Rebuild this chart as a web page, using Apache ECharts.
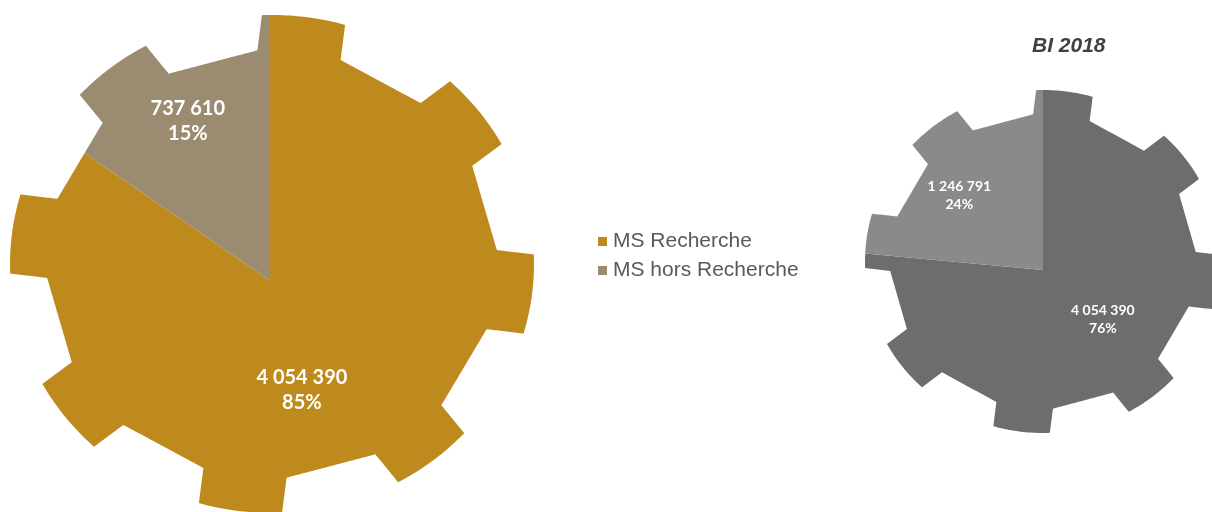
<!DOCTYPE html>
<html>
<head>
<meta charset="utf-8">
<script src="https://cdn.jsdelivr.net/npm/echarts@6/dist/echarts.min.js"></script>
<style>
  html, body { margin: 0; padding: 0; background: #ffffff; }
  #chart { width: 1212px; height: 512px; }
</style>
</head>
<body>
<div id="chart"></div>
<script>
// ---- data ----
const categories = ['MS Recherche', 'MS hors Recherche'];
const panelTitles = ['', 'BI 2018'];
const msRecherche = [4054390, 4054390];
const msHorsRecherche = [737610, 1246791];
const seriesValues = [msRecherche, msHorsRecherche];

// ---- gear-shaped pie layout (pixels) ----
const gears = [
  {
    cx: 272, cy: 264, rx: 262, ry: 249,   // outline centre and radii
    ax: 269, ay: 280,                     // point where the slices meet
    colors: ['#BE8A1E', '#9B8B71'],
    fontSize: 20, lineHeight: 25,
    labels: [{ da: 11, r: 0.437 }, { da: 0.6, r: 0.68 }]
  },
  {
    cx: 1043, cy: 261.5, rx: 178, ry: 171.5,
    ax: 1043, ay: 270,
    colors: ['#6D6D6D', '#8A8A8A'],
    fontSize: 14, lineHeight: 18,
    labels: [{ da: -8, r: 0.437 }, { da: -5.9, r: 0.63 }]
  }
];
const TEETH = 8, TOOTH_OFFSET = 7, TOOTH_HALF = 0.16, ROOT = 0.86;
const DEG = Math.PI / 180;

function buildOutline(g) {
  const pts = [];
  const toPx = (u) => [g.cx + u[0] * g.rx, g.cy + u[1] * g.ry];
  const line = (a, b, n) => {
    for (let i = 0; i < n; i++) {
      const t = i / n;
      pts.push(toPx([a[0] + (b[0] - a[0]) * t, a[1] + (b[1] - a[1]) * t]));
    }
  };
  const hb = Math.sqrt(ROOT * ROOT - TOOTH_HALF * TOOTH_HALF);
  const ho = Math.sqrt(1 - TOOTH_HALF * TOOTH_HALF);
  const tooth = (k) => {
    const phi = (TOOTH_OFFSET + k * 360 / TEETH) * DEG;
    const d = [Math.sin(phi), -Math.cos(phi)];
    const p = [Math.cos(phi), Math.sin(phi)];
    const comb = (s, q) => [d[0] * s + p[0] * q, d[1] * s + p[1] * q];
    return {
      phi,
      baseL: comb(hb, -TOOTH_HALF), outL: comb(ho, -TOOTH_HALF),
      outR: comb(ho, TOOTH_HALF), baseR: comb(hb, TOOTH_HALF)
    };
  };
  const dA = Math.asin(TOOTH_HALF);
  for (let k = 0; k < TEETH; k++) {
    const t = tooth(k), nx = tooth((k + 1) % TEETH);
    line(t.baseL, t.outL, 12);
    const n = 24;
    for (let i = 0; i < n; i++) {
      const a = t.phi - dA + 2 * dA * i / n;
      pts.push(toPx([Math.sin(a), -Math.cos(a)]));
    }
    line(t.outR, t.baseR, 12);
    line(t.baseR, nx.baseL, 40);
  }
  return pts;
}
gears.forEach(g => { g.outline = buildOutline(g); });

function angleFrom(g, pt) {
  let a = Math.atan2(pt[0] - g.ax, -(pt[1] - g.ay));
  if (a < 0) a += 2 * Math.PI;
  return a;
}
function rayHit(g, a) {
  const D = [Math.sin(a), -Math.cos(a)];
  const pts = g.outline;
  let best = null, bestT = -1;
  for (let i = 0; i < pts.length; i++) {
    const P = pts[i], Q = pts[(i + 1) % pts.length];
    const E = [Q[0] - P[0], Q[1] - P[1]];
    const den = D[0] * E[1] - D[1] * E[0];
    if (Math.abs(den) < 1e-9) continue;
    const w = [P[0] - g.ax, P[1] - g.ay];
    const t = (w[0] * E[1] - w[1] * E[0]) / den;
    const s = (w[0] * D[1] - w[1] * D[0]) / den;
    if (t > 0 && s >= -1e-6 && s <= 1 + 1e-6 && t > bestT) {
      bestT = t; best = [g.ax + D[0] * t, g.ay + D[1] * t];
    }
  }
  return best;
}
function slicePolygon(g, a0, a1) {
  const inner = g.outline
    .map(p => ({ p, a: angleFrom(g, p) }))
    .filter(o => o.a > a0 && o.a < a1)
    .sort((x, y) => x.a - y.a)
    .map(o => o.p);
  return [[g.ax, g.ay], rayHit(g, a0)].concat(inner, [rayHit(g, a1)]);
}
function fmtNumber(v) {
  return String(Math.round(v)).replace(/\B(?=(\d{3})+(?!\d))/g, ' ');
}

function renderSlice(params, api) {
  const gi = api.value(0);
  const v = api.value(1);
  const ci = params.seriesIndex;
  const g = gears[gi];
  let total = 0, before = 0;
  seriesValues.forEach((arr, i) => {
    total += arr[gi];
    if (i < ci) before += arr[gi];
  });
  const a0 = before / total * 2 * Math.PI;
  const a1 = (before + v) / total * 2 * Math.PI;
  const mid = (a0 + a1) / 2 + g.labels[ci].da * DEG;
  const lr = g.labels[ci].r * g.rx;
  return {
    type: 'group',
    children: [
      {
        type: 'polygon',
        shape: { points: slicePolygon(g, a0, a1) },
        style: { fill: g.colors[ci] }
      },
      {
        type: 'text',
        z2: 10,
        x: g.ax + Math.sin(mid) * lr,
        y: g.ay - Math.cos(mid) * lr,
        style: {
          text: fmtNumber(v) + '\n' + Math.round(v / total * 100) + '%',
          fill: '#ffffff',
          fontFamily: 'Lato, "Noto Sans", sans-serif',
          fontWeight: 'bold',
          fontSize: g.fontSize,
          lineHeight: g.lineHeight,
          align: 'center',
          verticalAlign: 'middle'
        }
      }
    ]
  };
}

const chart = echarts.init(document.getElementById('chart'), null, { renderer: 'canvas' });
chart.setOption({
  backgroundColor: '#ffffff',
  animation: false,
  title: {
    text: panelTitles[1],
    left: 1032,
    top: 36,
    padding: 0,
    textStyle: {
      fontFamily: 'Liberation Sans, Arial, sans-serif',
      fontStyle: 'italic',
      fontWeight: 'bold',
      fontSize: 21,
      color: '#404040'
    }
  },
  legend: {
    orient: 'vertical',
    left: 598,
    top: 231,
    padding: 0,
    itemWidth: 9,
    itemHeight: 9,
    itemGap: 8,
    icon: 'rect',
    data: categories,
    textStyle: {
      fontFamily: 'Liberation Sans, Arial, sans-serif',
      fontSize: 21,
      lineHeight: 21,
      color: '#595959',
      padding: [0, 0, 0, 1]
    }
  },
  series: categories.map((name, ci) => ({
    type: 'custom',
    name: name,
    coordinateSystem: 'none',
    itemStyle: { color: gears[0].colors[ci] },
    data: seriesValues[ci].map((v, gi) => [gi, v]),
    renderItem: renderSlice,
    silent: true
  }))
});
</script>
</body>
</html>
